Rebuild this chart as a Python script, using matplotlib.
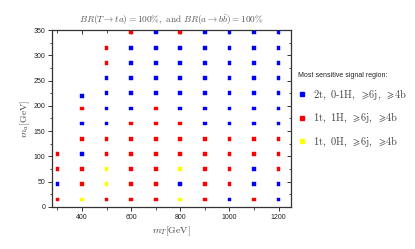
import numpy as np
import matplotlib
matplotlib.use("Agg")
import matplotlib.pyplot as plt
from matplotlib.lines import Line2D

plt.rcParams['mathtext.fontset'] = 'cm'
plt.rcParams['font.family'] = ['Liberation Sans', 'DejaVu Sans']

# m_T grid points and, per column, the m_a values and best signal region
# B = 2t 0-1H, R = 1t 1H, Y = 1t 0H   (listed bottom to top)
mT_values = [300, 400, 500, 600, 700, 800, 900, 1000, 1100, 1200]
ma_full = [15, 45, 75, 105, 135, 165, 195, 225, 255, 285, 315, 345]
ma_300 = [15, 45, 75, 105]
ma_400 = [15, 45, 75, 105, 135, 165, 195, 220]
ma_500 = [15, 45, 75, 105, 135, 165, 195, 225, 255, 285, 315]

regions = {
    300: "RBRR",
    400: "YRRBRBRB",
    500: "RYYRRBBBBRR",
    600: "RRRRRRBBBBBR",
    700: "RRRRRRRBBBBB",
    800: "YBYRRRBBBBBR",
    900: "RRRRRBBBBBBB",
    1000: "BRRRRBBBBBBB",
    1100: "RBBRRBBBBBBB",
    1200: "BBRRRBBBBBBB",
}
ma_by_mT = {300: ma_300, 400: ma_400, 500: ma_500}

region_names = {
    "B": r"$\mathrm{2t,\ 0\text{-}1H,\ }\geqslant\!\mathrm{6j,\ }\geqslant\!\mathrm{4b}$",
    "R": r"$\mathrm{1t,\ 1H,\ }\geqslant\!\mathrm{6j,\ }\geqslant\!\mathrm{4b}$",
    "Y": r"$\mathrm{1t,\ 0H,\ }\geqslant\!\mathrm{6j,\ }\geqslant\!\mathrm{4b}$",
}
region_colors = {"B": "#0000ff", "R": "#ff0000", "Y": "#ffff00"}

xs, ys, cs = [], [], []
for mT in mT_values:
    mas = ma_by_mT.get(mT, ma_full)
    for ma, r in zip(mas, regions[mT]):
        xs.append(mT)
        ys.append(ma)
        cs.append(region_colors[r])

fig = plt.figure(figsize=(4.15, 2.49), dpi=100)
ax = fig.add_axes([0.1265, 0.1687, 0.5745, 0.7108])

ax.scatter(xs, ys, c=cs, marker='s', s=7, linewidths=0.3, edgecolors=cs, zorder=3)

ax.set_xlim(280, 1250)
ax.set_ylim(0, 350)
ax.set_xticks([400, 600, 800, 1000, 1200])
ax.set_xticks(np.arange(300, 1250, 100), minor=True)
ax.set_yticks(np.arange(0, 351, 50))
ax.set_yticks(np.arange(25, 350, 50), minor=True)

gray = '#333333'
for sp in ax.spines.values():
    sp.set_color(gray)
    sp.set_linewidth(0.9)

ax.tick_params(which='major', direction='out', length=3, width=0.7, colors=gray,
               labelsize=5, pad=2, labelcolor='#222222')
ax.tick_params(which='minor', direction='out', length=1.8, width=0.6, colors=gray)

top = ax.secondary_xaxis('top')
top.set_xticks([400, 600, 800, 1000, 1200])
top.set_xticks(np.arange(300, 1250, 100), minor=True)
top.tick_params(which='major', direction='in', length=3, width=0.7, colors=gray, labeltop=False)
top.tick_params(which='minor', direction='in', length=1.8, width=0.6, colors=gray)
top.spines['top'].set_visible(False)

right = ax.secondary_yaxis('right')
right.set_yticks(np.arange(0, 351, 50))
right.set_yticks(np.arange(25, 350, 50), minor=True)
right.tick_params(which='major', direction='in', length=3, width=0.7, colors=gray, labelright=False)
right.tick_params(which='minor', direction='in', length=1.8, width=0.6, colors=gray)
right.spines['right'].set_visible(False)

ax.set_xlabel(r'$m_T[\mathrm{GeV}]$', fontsize=7, color='#444444', labelpad=3)
ax.set_ylabel(r'$m_a[\mathrm{GeV}]$', fontsize=7, color='#444444', labelpad=1.5)
ax.set_title(r'$BR(T\rightarrow ta)=100\%\mathrm{,\ and\ }BR(a\rightarrow b\bar{b})=100\%$',
             fontsize=6.7, color='#555555', pad=5)

handles = [Line2D([], [], marker='s', ls='none', ms=2.8, color=region_colors[k],
                  label=region_names[k]) for k in ["B", "R", "Y"]]
leg = fig.legend(handles=handles, loc='upper left', bbox_to_anchor=(0.708, 0.728),
                 frameon=False, fontsize=7.5, title='Most sensitive signal region:',
                 title_fontsize=5, labelspacing=0.95, handletextpad=0.7,
                 handlelength=0.7, borderaxespad=0, labelcolor='#444444')
leg._legend_box.align = 'left'
leg.get_title().set_color('#222222')

fig.savefig('out.png', dpi=100)
